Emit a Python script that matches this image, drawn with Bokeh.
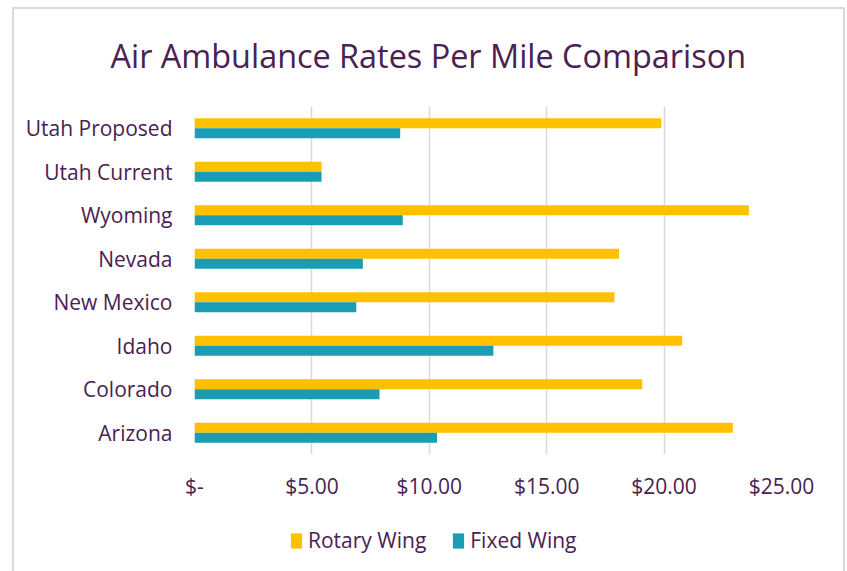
from bokeh.plotting import figure
from bokeh.layouts import column
from bokeh.models import (ColumnDataSource, FactorRange, Range1d, FixedTicker, Title,
                          Legend, LegendItem, InlineStyleSheet)
from bokeh.transform import dodge
from bokeh.embed import file_html
from bokeh.resources import INLINE

# ---- data ----
states = ["Utah Proposed", "Utah Current", "Wyoming", "Nevada",
          "New Mexico", "Idaho", "Colorado", "Arizona"]
rotary_wing = [19.88, 5.41, 23.61, 18.08, 17.89, 20.77, 19.07, 22.93]
fixed_wing = [8.76, 5.41, 8.87, 7.17, 6.89, 12.73, 7.88, 10.33]
tick_values = [0, 5, 10, 15, 20, 25]
tick_labels = ["$-", "$5.00", "$10.00", "$15.00", "$20.00", "$25.00"]
title_text = "Air Ambulance Rates Per Mile Comparison"
series_names = ["Rotary Wing", "Fixed Wing"]

YELLOW = "#FFC000"
TEAL = "#1A9CB4"
PURPLE = "#4A2152"
GRID = "#D9D9D9"
FONT = "Open Sans"

src = ColumnDataSource(dict(state=states, rotary=rotary_wing, fixed=fixed_wing))

p = figure(width=847, height=520, output_backend="svg", toolbar_location=None,
           x_range=Range1d(0, 25),
           y_range=FactorRange(*list(reversed(states)), range_padding=0),
           min_border_left=194, min_border_right=66,
           min_border_top=106, min_border_bottom=66)
p.outline_line_color = None
p.background_fill_color = "white"
p.border_fill_color = None

r1 = p.hbar(y=dodge("state", 0.115, range=p.y_range), left=0, right="rotary",
            height=0.23, color=YELLOW, line_color=None, source=src)
r2 = p.hbar(y=dodge("state", -0.115, range=p.y_range), left=0, right="fixed",
            height=0.23, color=TEAL, line_color=None, source=src)

# axes
p.xaxis.ticker = FixedTicker(ticks=tick_values)
p.xaxis.major_label_overrides = {v: l for v, l in zip(tick_values, tick_labels)}
p.xaxis.axis_line_color = None
p.xaxis.major_tick_line_color = None
p.xaxis.minor_tick_line_color = None
p.xaxis.major_label_text_font = FONT
p.xaxis.major_label_text_font_size = "21px"
p.xaxis.major_label_text_color = PURPLE
p.xaxis.major_label_standoff = 11

p.yaxis.axis_line_color = None
p.yaxis.major_tick_line_color = None
p.yaxis.minor_tick_line_color = None
p.yaxis.major_tick_out = 0
p.yaxis.major_label_text_font = FONT
p.yaxis.major_label_text_font_size = "21px"
p.yaxis.major_label_text_color = PURPLE
p.yaxis.major_label_standoff = 22

p.xgrid.ticker = FixedTicker(ticks=tick_values)
p.xgrid.grid_line_color = GRID
p.xgrid.grid_line_width = 1.5
p.ygrid.visible = False

# title
p.title = Title(text=title_text, align="left", offset=-84, standoff=60,
                text_font=FONT, text_font_size="32.4px", text_font_style="normal",
                text_color=PURPLE)

# ---- legend strip below the chart (frame aligned with the chart's frame) ----
lg = figure(width=847, height=51, output_backend="svg", toolbar_location=None,
            x_range=Range1d(0, 1), y_range=Range1d(0, 1),
            x_axis_type=None, y_axis_type=None,
            min_border_left=0, min_border_right=0, min_border_top=0, min_border_bottom=0)
lg.outline_line_color = None
lg.grid.visible = False
lg.border_fill_color = None
lg.background_fill_color = None
# zero-size swatch glyphs: they only provide the legend keys
k1 = lg.hbar(y=[0.5], left=[0], right=[0], height=0, color=YELLOW, line_color=None)
k2 = lg.hbar(y=[0.5], left=[0], right=[0], height=0, color=TEAL, line_color=None)

legend = Legend(items=[LegendItem(label=series_names[0], renderers=[k1]),
                       LegendItem(label=series_names[1], renderers=[k2])],
                orientation="horizontal", location=(95, 17),
                label_text_font=FONT, label_text_font_size="21px",
                label_text_color=PURPLE, glyph_width=14, glyph_height=19,
                label_height=27, spacing=25, label_standoff=5, padding=0, margin=0,
                border_line_color=None, background_fill_alpha=0)
lg.add_layout(legend)

layout = column(p, lg, spacing=0, stylesheets=[InlineStyleSheet(css="""
:host { position: relative; background: white; }
:host::after { content: ""; position: absolute; left: 12px; top: 7px;
  width: 833px; height: 580px; border: 2px solid #D9D9D9; border-bottom: none;
  pointer-events: none; box-sizing: border-box; }
""")])

open("out.html", "w").write(file_html(layout, INLINE))
